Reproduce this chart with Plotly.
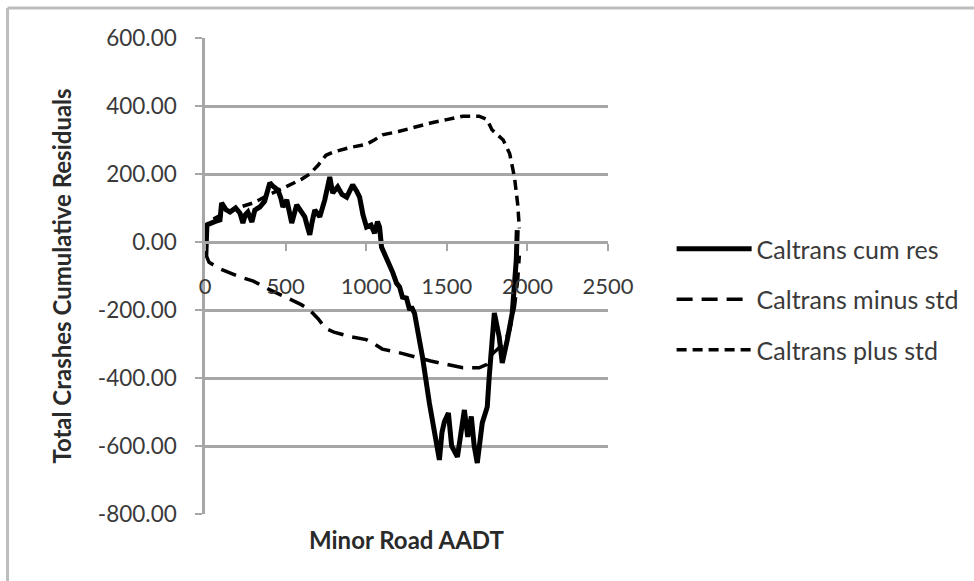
import plotly.graph_objects as go

# Cumulative residuals of total crashes against minor road AADT
cum_x = [0, 5, 12, 30, 60, 93, 103, 130, 155, 190, 217, 235, 250, 266, 280, 291, 309,
         340, 370, 402, 420, 452, 470, 483, 507, 520, 538, 569, 590, 619, 635, 650, 665,
         681, 712, 743, 774, 792, 823, 850, 879, 916, 940, 959, 980, 1002, 1030, 1052,
         1070, 1083, 1095, 1120, 1145, 1165, 1188, 1207, 1225, 1250, 1270, 1281, 1300,
         1349, 1392, 1436, 1454, 1470, 1485, 1510, 1530, 1566, 1590, 1609, 1630, 1652,
         1670, 1689, 1720, 1751, 1763, 1782, 1795, 1825, 1844, 1875, 1906, 1931, 1937]
cum_res = [0, -40, 50, 55, 60, 65, 115, 95, 88, 100, 85, 56, 80, 88, 70, 59, 94,
           103, 120, 174, 165, 153, 130, 103, 124, 90, 56, 109, 95, 74, 45, 21, 60,
           94, 74, 124, 191, 144, 162, 140, 132, 168, 150, 132, 80, 44, 50, 26,
           60, 44, -15, -40, -73, -90, -121, -132, -162, -165, -200, -191, -210,
           -338, -474, -582, -641, -560, -529, -503, -600, -632, -540, -494, -573, -513,
           -600, -650, -532, -485, -397, -288, -209, -279, -356, -288, -209, -53, 35]

# Standard deviation bounds
std_x = [0, 25, 100, 200, 300, 400, 500, 600, 650, 700, 750, 800, 900, 1000, 1050,
         1100, 1200, 1300, 1400, 1500, 1600, 1700, 1750, 1780, 1850, 1890, 1920, 1940, 1950]
plus_std = [30, 60, 80, 100, 115, 140, 162, 185, 200, 225, 255, 265, 278, 287, 300,
            315, 325, 338, 350, 360, 370, 370, 360, 330, 300, 260, 190, 110, 40]
minus_std = [-30, -60, -80, -100, -115, -140, -162, -185, -200, -225, -255, -265, -278, -287, -300,
             -315, -325, -338, -350, -360, -370, -370, -360, -330, -300, -260, -190, -110, -40]

x_ticks = [0, 500, 1000, 1500, 2000, 2500]
y_ticks = [-800, -600, -400, -200, 0, 200, 400, 600]
y_tick_text = ["-800.00", "-600.00", "-400.00", "-200.00", "0.00", "200.00", "400.00", "600.00"]

FONT = "Lato"
TXT = "#3a3a3a"
GRID = "#a6a6a6"

fig = go.Figure()
fig.add_trace(go.Scatter(x=cum_x, y=cum_res, mode="lines", name="Caltrans cum res",
                         line=dict(color="black", width=5), legendgroup="a"))
fig.add_trace(go.Scatter(x=std_x, y=minus_std, mode="lines", name="Caltrans minus std",
                         line=dict(color="black", width=3.5, dash="16px,9px"), legendgroup="b"))
fig.add_trace(go.Scatter(x=std_x, y=plus_std, mode="lines", name="Caltrans plus std",
                         line=dict(color="black", width=3.5, dash="10px,6px"), legendgroup="c"))

fig.update_layout(
    width=974, height=581,
    margin=dict(l=205, r=365, t=38, b=67),
    paper_bgcolor="white", plot_bgcolor="white",
    font=dict(family=FONT, size=22, color=TXT),
    xaxis=dict(range=[0, 2500], tickvals=x_ticks, ticktext=[str(v) for v in x_ticks],
               anchor="free", position=800 / 1400,
               showline=True, linecolor=GRID, linewidth=2.5,
               ticks="outside", ticklen=7, tickwidth=2, tickcolor=GRID,
               ticklabelstandoff=17, showgrid=False, zeroline=False,
               tickfont=dict(family=FONT, size=22, color=TXT)),
    yaxis=dict(range=[-800, 600], tickvals=y_ticks, ticktext=y_tick_text,
               showline=True, linecolor=GRID, linewidth=2.5,
               ticks="outside", ticklen=7, tickwidth=2, tickcolor=GRID,
               ticklabelstandoff=14,
               showgrid=True, gridcolor=GRID, gridwidth=2.5, zeroline=False,
               title=dict(text="<b>Total Crashes Cumulative Residuals</b>",
                          font=dict(family=FONT, size=24, color="#2a2a2a"), standoff=20),
               tickfont=dict(family=FONT, size=22.5, color=TXT)),
    legend=dict(x=1.155, y=0.605, xanchor="left", yanchor="top",
                font=dict(family=FONT, size=25, color=TXT),
                tracegroupgap=15, itemwidth=75, bgcolor="rgba(0,0,0,0)"),
    showlegend=True,
)

# x-axis title sits below the plot area
fig.add_annotation(text="<b>Minor Road AADT</b>", xref="paper", yref="paper",
                   x=0.5, y=-0.018, xanchor="center", yanchor="top", showarrow=False,
                   font=dict(family=FONT, size=24, color="#2a2a2a"))

# outer chart frame (left and top edges)
fig.add_shape(type="line", xref="paper", yref="paper", x0=-0.49, x1=-0.49, y0=-0.3, y1=1.063,
              line=dict(color="#bdbdbd", width=3))
fig.add_shape(type="line", xref="paper", yref="paper", x0=-0.49, x1=2.0, y0=1.063, y1=1.063,
              line=dict(color="#bdbdbd", width=3))

fig.write_html("out.html")
